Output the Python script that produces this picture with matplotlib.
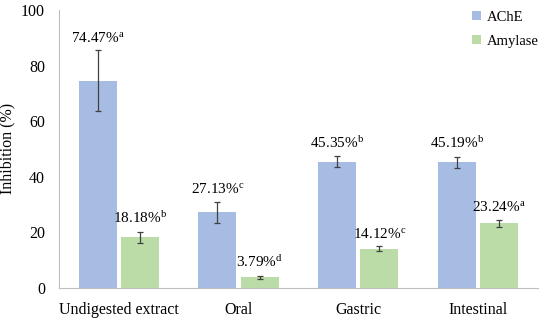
import numpy as np
import matplotlib.pyplot as plt

plt.rcParams['font.family'] = ['Liberation Serif', 'DejaVu Serif']
plt.rcParams['mathtext.fontset'] = 'custom'
plt.rcParams['mathtext.rm'] = 'Liberation Serif'
plt.rcParams['mathtext.it'] = 'Liberation Serif'

categories = ['Undigested extract', 'Oral', 'Gastric', 'Intestinal']
ache = [74.47, 27.13, 45.35, 45.19]
ache_err = [11.0, 3.8, 2.0, 2.0]
ache_sig = ['a', 'c', 'b', 'b']
amylase = [18.18, 3.79, 14.12, 23.24]
amylase_err = [2.0, 0.6, 0.8, 1.2]
amylase_sig = ['b', 'd', 'c', 'a']

fig = plt.figure(figsize=(5.5, 3.22), dpi=100)
ax = fig.add_axes([0.107, 0.106, 0.871, 0.863])

x = np.arange(len(categories))
w = 0.317
gap = 0.035
c_blue = '#A7BCE3'
c_green = '#BBDCA6'
ekw = dict(ecolor='#404040', elinewidth=0.9, capsize=2.5, capthick=0.9)

ax.bar(x - w / 2 - gap / 2, ache, w, yerr=ache_err, color=c_blue, label='AChE', error_kw=ekw)
ax.bar(x + w / 2 + gap / 2, amylase, w, yerr=amylase_err, color=c_green, label='Amylase', error_kw=ekw)

for i in range(len(categories)):
    ax.annotate('%.2f%%$^{\\mathrm{%s}}$' % (ache[i], ache_sig[i]),
                (x[i] - w / 2 - gap / 2, ache[i] + ache_err[i]), xytext=(0, 4),
                textcoords='offset points', ha='center', va='bottom', fontsize=11)
    ax.annotate('%.2f%%$^{\\mathrm{%s}}$' % (amylase[i], amylase_sig[i]),
                (x[i] + w / 2 + gap / 2, amylase[i] + amylase_err[i]), xytext=(0, 4),
                textcoords='offset points', ha='center', va='bottom', fontsize=11)

ax.set_xlim(-0.5, len(categories) - 0.5)
ax.set_ylim(0, 100)
ax.set_yticks([0, 20, 40, 60, 80, 100])
ax.set_xticks(x)
ax.set_xticklabels(categories)
ax.tick_params(axis='x', length=0, labelsize=11.5, pad=10)
ax.tick_params(axis='y', length=0, labelsize=11.5, pad=10)
ax.set_ylabel('Inhibition (%)', fontsize=11.5, labelpad=4)
for s in ['top', 'right']:
    ax.spines[s].set_visible(False)
for s in ['left', 'bottom']:
    ax.spines[s].set_color('#BFBFBF')

fig.legend(loc='upper left', bbox_to_anchor=(472 / 550, 1 - 11 / 322), frameon=False, fontsize=10.5,
           handlelength=0.6, handleheight=0.6, handletextpad=0.4, labelspacing=0.75,
           borderpad=0, borderaxespad=0)

fig.savefig('out.png', dpi=100)
